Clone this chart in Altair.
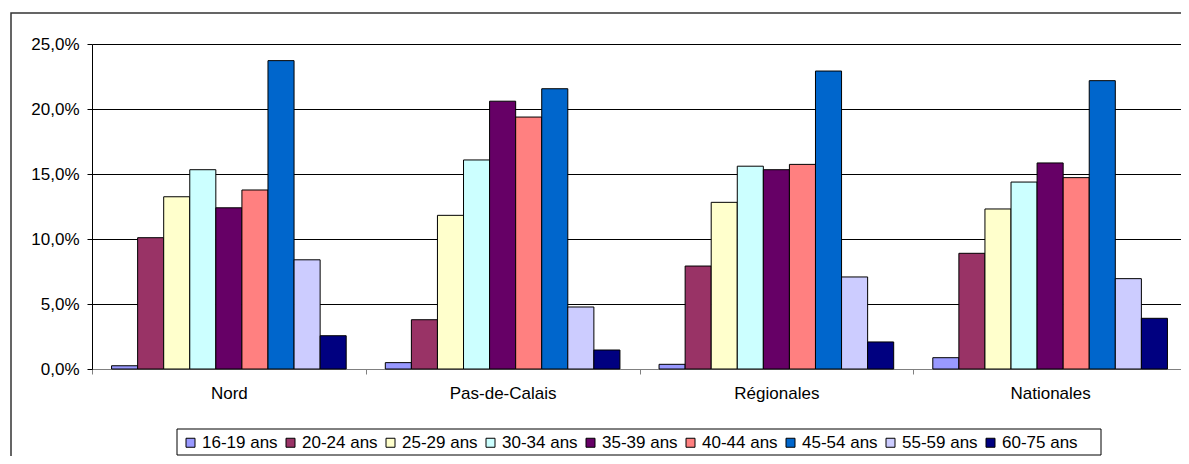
import altair as alt
import pandas as pd

zones = ["Nord", "Pas-de-Calais", "Régionales", "Nationales"]
ages = ["16-19 ans", "20-24 ans", "25-29 ans", "30-34 ans", "35-39 ans",
        "40-44 ans", "45-54 ans", "55-59 ans", "60-75 ans"]
colors = ["#9999FF", "#993366", "#FFFFCC", "#CCFFFF", "#660066",
          "#FF8080", "#0066CC", "#CCCCFF", "#000080"]

nord = [0.25, 10.1, 13.25, 15.33, 12.4, 13.77, 23.72, 8.4, 2.56]
pas_de_calais = [0.49, 3.79, 11.82, 16.08, 20.6, 19.38, 21.56, 4.77, 1.46]
regionales = [0.36, 7.92, 12.82, 15.6, 15.33, 15.74, 22.92, 7.08, 2.08]
nationales = [0.87, 8.9, 12.31, 14.38, 15.85, 14.72, 22.18, 6.95, 3.9]

series = [nord, pas_de_calais, regionales, nationales]
rows = []
for z, vals in zip(zones, series):
    for a, v in zip(ages, vals):
        rows.append({"zone": z, "age": a, "pct": v})
df = pd.DataFrame(rows)

FONT = "Liberation Sans"
FS = 17

bars = alt.Chart(df).mark_bar(stroke="black", strokeWidth=1).encode(
    x=alt.X("zone:N", sort=zones, title=None,
            scale=alt.Scale(paddingInner=0, paddingOuter=0),
            axis=alt.Axis(labelAngle=0, tickBand="extent", domainColor="#808080",
                          tickColor="#808080", tickSize=5, labelPadding=11,
                          labelFontSize=FS, labelFont=FONT, labelColor="black",
                          grid=False)),
    xOffset=alt.XOffset("age:N", sort=ages,
                        scale=alt.Scale(paddingOuter=0.75, paddingInner=0)),
    y=alt.Y("pct:Q", title=None,
            scale=alt.Scale(domain=[0, 25], nice=False),
            axis=alt.Axis(values=[0, 5, 10, 15, 20, 25],
                          labelExpr="replace(format(datum.value, '.1f'), '.', ',') + '%'",
                          grid=True, gridColor="black", gridWidth=1,
                          domainColor="black", tickColor="black", tickSize=5,
                          labelPadding=8, labelFontSize=FS, labelFont=FONT,
                          labelColor="black")),
    color=alt.Color("age:N", sort=ages,
                    scale=alt.Scale(domain=ages, range=colors),
                    legend=alt.Legend(title=None, orient="none", legendX=85, legendY=385,
                                      direction="horizontal", columns=9,
                                      symbolType="square", symbolSize=81,
                                      symbolStrokeColor="black", symbolStrokeWidth=1,
                                      labelFont=FONT, labelFontSize=FS,
                                      labelColor="black", labelOffset=3,
                                      columnPadding=4, padding=5)),
)

deco_df = pd.DataFrame({"k": [0]})
frame = alt.Chart(deco_df).mark_rect(fill=None, stroke="#333333", strokeWidth=1.5).encode(
    x=alt.value(-81), x2=alt.value(1300), y=alt.value(-31), y2=alt.value(600)
)
legend_box = alt.Chart(deco_df).mark_rect(fill="white", stroke="black", strokeWidth=1).encode(
    x=alt.value(85), x2=alt.value(1009), y=alt.value(385), y2=alt.value(411)
)

chart = alt.layer(frame, legend_box, bars).properties(
    width=1095, height=325,
    autosize=alt.AutoSizeParams(type="none"),
    padding={"left": 84, "top": 36, "right": -6, "bottom": 87},
).configure_view(stroke=None)

chart.save("out.html", embed_options={"renderer": "svg", "actions": False})
